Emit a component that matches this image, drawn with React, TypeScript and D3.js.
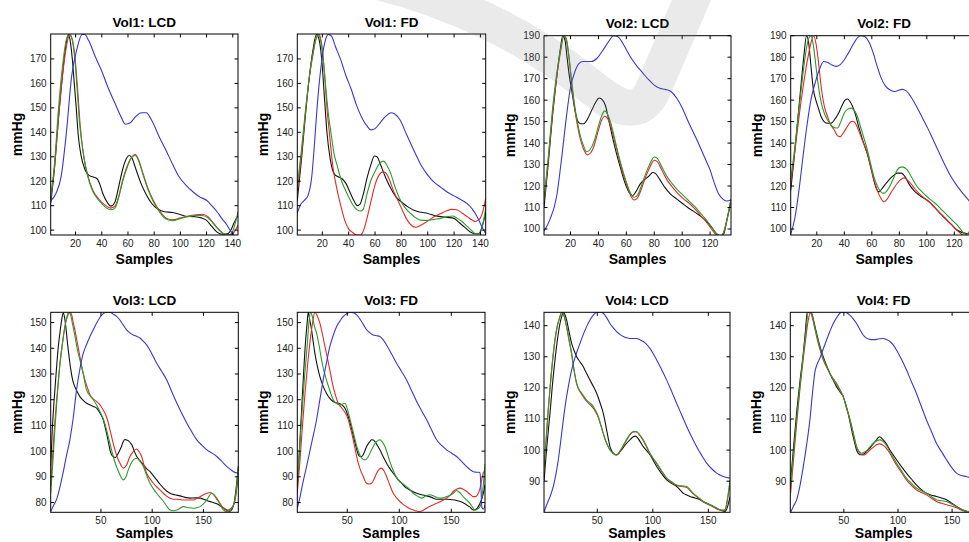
import React from "react";
import * as d3 from "d3";

type Pt = [number, number];

// ---------------- text ----------------
const panelTitles = ["Vol1: LCD", "Vol1: FD", "Vol2: LCD", "Vol2: FD", "Vol3: LCD", "Vol3: FD", "Vol4: LCD", "Vol4: FD"];
const xAxisLabel = "Samples";
const yAxisLabel = "mmHg";

// ---------------- ticks ----------------
const xTicksVol12 = [20, 40, 60, 80, 100, 120, 140];
const xTicksVol34 = [50, 100, 150];
const yTicksVol1 = [100, 110, 120, 130, 140, 150, 160, 170];
const yTicksVol2 = [100, 110, 120, 130, 140, 150, 160, 170, 180, 190];
const yTicksVol3 = [80, 90, 100, 110, 120, 130, 140, 150];
const yTicksVol4 = [90, 100, 110, 120, 130, 140];

const panelXTicks = [xTicksVol12, xTicksVol12, xTicksVol12, xTicksVol12, xTicksVol34, xTicksVol34, xTicksVol34, xTicksVol34];
const panelYTicks = [yTicksVol1, yTicksVol1, yTicksVol2, yTicksVol2, yTicksVol3, yTicksVol3, yTicksVol4, yTicksVol4];

const panelXDomains: [number, number][] = [[1, 144], [1, 144], [1, 135], [1, 137], [1, 184], [2, 182.4], [2, 169.5], [0.5, 173]];
const panelYDomains: [number, number][] = [[98, 180.2], [98, 180.2], [97.2, 190], [97.2, 190], [76.2, 154], [76.2, 154], [80, 144.3], [80, 144.3]];

// ---------------- series (sample, mmHg) ----------------
// Vol1 LCD
const vol1LcdBlue: Pt[] = [[1,112],[5,115],[9,122],[13,140],[17,163],[21,174],[25,180],[27,180],[30,177.5],[35,171],[40,165],[45,158],[50,152],[55,146],[58,143.3],[62,144],[66,146.5],[70,148],[74,148],[78,145],[84,138],[89,132.7],[94,127],[99,121.8],[104,118.5],[110,115.5],[115,113.5],[120,112.2],[124,110],[128,107.5],[132,104.5],[135,102.5],[138,100],[141,97.8],[144,96.5]];
const vol1LcdBlack: Pt[] = [[1,111],[4,126],[6.5,143],[9,158],[11.5,171],[13.5,178.5],[14.5,180],[16,177],[17.5,170],[19,160],[20.5,150],[22,139],[24,131],[27,125],[30,122.5],[33,121.8],[36,121.2],[38,119.5],[40.8,115],[44,111.5],[47,109.8],[50,111.5],[53,118],[56,125],[59,129.5],[61,130.5],[63,129.5],[66,125],[70,119],[74,114.5],[78,111],[83,108.5],[88,107.5],[94,107.2],[99,106.5],[104,105.7],[110,105.5],[116,105],[120,104],[124,101.5],[128,99.2],[132,98.3],[136,98.5],[139,100.5],[141,103],[144,106]];
const vol1LcdRed: Pt[] = [[1,113],[4,126],[7,146],[10,163],[13,175],[15.5,180],[17.5,178],[19.5,171],[21.5,158],[23.5,143],[26,131],[29,123],[33,116.5],[38,112.5],[43,110],[47,109],[50,109.8],[53,114],[56,120.5],[60,127],[63,130],[65.5,131],[68,129],[71,124],[75,117.5],[79,112.5],[84,108],[89,105],[94,104.2],[100,105],[106,105.8],[112,106.3],[117,106.5],[121,105.5],[125,103],[129,100.5],[133,98.5],[137,98],[140,98.5],[142,100],[144,102]];
const vol1LcdGreen: Pt[] = [[1,113],[4,128],[7,150],[10,167],[13,178],[15,180],[17,178.5],[19,172],[21,159],[23,144],[26,131],[29,122.5],[33,116],[38,112],[43,109.3],[47,108.3],[50,109],[53,113.5],[56,120],[60,126.5],[63,129.8],[65.5,130.5],[68,128.5],[71,123.5],[75,117],[79,112],[84,107.5],[89,104.5],[94,103.8],[100,104.7],[106,105.5],[112,106],[117,106],[121,105],[125,102.8],[129,100.3],[133,98.5],[137,98],[140,99.5],[142,103],[144,107.5]];

// Vol1 FD
const vol1FdBlue: Pt[] = [[1,107],[3,110],[6,112],[9,114],[12,122],[14,135],[16,150],[18,162],[20,171],[22,177],[24.5,180],[27,179.3],[30,175],[34,169.6],[38,163],[42,157.5],[46,151],[50,146],[54,142.5],[57,141],[60,141.5],[64,144],[68,146.5],[72,148],[75,147.5],[79,145],[84,139],[90,132],[95,126.5],[100,122.5],[105,119.5],[110,117.5],[115,115.5],[120,114],[125,112.5],[130,110.8],[134,108.5],[138,105],[141,101.5],[144,98.5]];
const vol1FdBlack: Pt[] = [[1,112],[4,128],[7,146],[10,162],[13,174],[15.5,180],[17.5,178],[19.5,170],[21.5,155],[23.5,140],[26,129],[29,123],[32,121.8],[35,121],[38,119],[41,115.5],[44,112],[46.5,110],[48.5,110.5],[51,114.5],[54,121.5],[57,127],[59.5,130.3],[61.5,130],[64,127],[68,121.5],[72,117],[76,113.5],[80,111.5],[85,109.5],[90,108],[95,107.3],[100,106.8],[105,106],[110,105.5],[115,105.2],[120,104.8],[124,103],[128,101.2],[132,99.3],[136,98.5],[139,98.6],[141,101],[144,107]];
const vol1FdRed: Pt[] = [[1,116],[4,130],[7,147],[10,162],[13,173],[15.5,178.5],[17.5,180],[19.5,176],[21.5,165],[23.5,150],[25.5,139],[28,126],[31,117],[34,110],[37,104],[40,100.5],[43,99],[46,98],[49,98],[51,99.5],[54,105],[57,112],[60,118.5],[63,122.5],[66,123.8],[68,123.5],[71,120.5],[74,116],[77,112.5],[80,109],[84,104.5],[88,101.8],[91,101.2],[94,101.8],[98,103],[102,104.5],[106,105.8],[110,106.8],[114,107.8],[118,108.5],[122,108.3],[126,107],[130,105.5],[134,104],[136,103.5],[138,104],[140,105],[142,108],[144,113]];
const vol1FdGreen: Pt[] = [[1,118],[4,132],[7,148],[10,162],[13,172],[15,178],[16.7,180],[18.5,178],[20.5,171],[22.5,159],[24.5,148],[26.5,140],[29,131],[31.5,126],[34,121],[37,117],[40,113.5],[43,110.5],[46,108.5],[49,107.8],[51,108.5],[54,115],[57,120.5],[60,124],[63,127],[66.5,128.2],[69,126.5],[72,123],[75,118],[79,112.5],[83,109],[87,106.8],[91,105],[95,104],[100,104],[105,104.4],[110,104.8],[115,105.5],[119,105.8],[122,105],[126,103.5],[130,101.5],[133,100],[136,98.6],[139,98.5],[141,100.5],[144,109]];

// Vol2 LCD
const vol2LcdBlue: Pt[] = [[1,99],[5,104],[10,115],[14,135],[17,152],[20,166],[23,173],[26,177],[29,178],[32,178],[35,178],[39,179.5],[43,183],[47,187],[51,190],[54,189.5],[57,187],[60,183.5],[64,179],[68,175.5],[72,172.5],[76,169.5],[80,167],[84,165.5],[88,165],[92,164],[96,161],[100,156.5],[104,150.5],[108,145],[112,139.5],[116,133.5],[120,127.5],[123,121.5],[126,116.5],[129,114],[132,113],[135,113.5]];
const vol2LcdBlack: Pt[] = [[1,110],[4,130],[7,152],[10,170],[12.5,183],[14.5,190],[16,188],[17.5,180],[19,172],[21,164],[23,156],[25,150.5],[27,149],[29.5,149],[32,151],[35,155],[38,159],[40.5,161],[43,160],[45,157.5],[47,152],[50,143],[53,135],[56,128],[59,121.5],[62,117],[64.5,115.5],[67,117.5],[70,121],[73,123],[76,124.5],[79,126.3],[81,125.8],[84,123],[88,119],[92,116],[96,114],[100,112],[104,110],[108,108.3],[112,106.5],[116,104.5],[119,102.5],[122,100],[125,97.5],[128,96.8],[130,98],[132,104],[134,110],[135,113]];
const vol2LcdRed: Pt[] = [[1,113],[4,132],[7,153],[10,170],[13,183],[15.3,190],[17,188],[19,179],[21,167],[23,156],[25,148],[27,142],[29.5,137],[32,134.5],[34.5,135.5],[37,139],[40,146],[42.5,151],[44.5,152.5],[46.5,151.5],[49,147.5],[52,140],[55,132],[58,125],[61,119],[63.5,115],[65.5,113.5],[68,114.5],[71,119],[74,124.5],[77,129],[80,132],[82,131.5],[85,128],[89,123],[93,119.5],[97,116.5],[101,114],[105,112],[109,109.5],[113,106.5],[117,103.5],[121,100],[124,97.5],[127,96.5],[129,97.5],[131,101.5],[133,107],[135,113.5]];
const vol2LcdGreen: Pt[] = [[1,113],[4,133],[7,155],[10,172],[13,184],[15,190],[16.8,189],[18.8,181],[20.8,169],[23,157.5],[25,149.5],[27,143.5],[29.5,138.5],[31.5,136],[34,137],[37,141],[40,148],[42.5,153],[44.5,155],[46.5,153.5],[49,149],[52,141],[55,133],[58,126],[61,120],[63.5,116],[65.5,114.8],[68,115.8],[71,120.5],[74,126],[77,130.5],[80,133.5],[82,133],[85,129.5],[89,124.5],[93,121],[97,118],[101,115.5],[105,113],[109,110.5],[113,107.5],[117,104.5],[121,101],[124,98.3],[127,97],[129,97.5],[131,101],[133,107],[135,114]];

// Vol2 FD
const vol2FdBlue: Pt[] = [[1,97.5],[4,105],[7,118],[10,134],[13,149],[16,161],[19,168.5],[22,174.5],[25,178],[28,177.5],[31,176.3],[34,175.7],[37,176.5],[40,178.8],[43,182],[47,186.6],[50,189.3],[52,190],[55,189.5],[58,187],[61,182],[64,175.5],[67,170],[70,166.5],[73,164.8],[76,164],[79,164.5],[82,165],[85,164.3],[89,161],[93,156.5],[97,151.5],[101,146.5],[105,141],[109,135.5],[113,130],[117,125],[121,121],[125,117.5],[129,114.5],[132,112],[136,108]];
const vol2FdBlack: Pt[] = [[1,118],[3.5,133],[6,150],[8.5,167],[10.5,180],[12.5,190],[14,187],[15.7,176],[17.5,165],[19.3,160],[21,156.5],[23,152.5],[25.3,150],[28,149.2],[30.5,149.3],[33,151],[35.5,153.5],[38,157],[40.5,160],[42.2,160.5],[44,159.5],[46,157],[48,153.5],[50.5,147.5],[53.5,141],[56.7,135],[59.5,128],[61.5,122.5],[63.5,118.5],[65.2,117.3],[67,118.5],[69.5,120.5],[72,122.5],[75,124.5],[78.5,126],[81.5,126],[84,124.5],[87,121],[90.5,118],[94,116],[98,114.3],[102,112.5],[106,109.8],[110,107],[114,104.5],[118,102],[122,99.5],[126,98.3],[130,97.8],[133,99],[136,102]];
const vol2FdRed: Pt[] = [[1,121],[4,136],[7,152],[10,166],[13,178],[15.5,186],[17.5,190],[19.5,186],[21.5,176],[23.5,164.5],[25.5,157],[27.8,152.4],[30,148.5],[32.6,146.2],[35,143.5],[37,143],[39.5,145],[42.2,147.7],[44.5,149.8],[46,150.2],[48,149.3],[50,146.5],[53,141.5],[56.7,135.3],[59.5,128],[61.5,123],[64,118],[66.4,114.5],[68.8,112.7],[71,113.8],[73.6,116.6],[76,119],[78.5,121.3],[81,123],[83.3,123.8],[85.5,123],[88.2,121.3],[91.5,118.5],[95.4,115.9],[99,114],[102.6,112],[106,109.8],[109.9,107.3],[113.5,105],[117,102.6],[120.5,100.3],[124.4,98],[127,97],[130,97],[133,98.5],[136,101]];
const vol2FdGreen: Pt[] = [[1,123],[4,138],[7,156],[9.5,170],[11.5,180],[13.7,188],[15.7,190],[17.5,185.5],[19.5,175],[21.5,165],[23.5,158],[25.4,154],[28,150.5],[30.2,148.5],[32.5,147.3],[35,147],[37.5,150],[40,154],[42.5,155.8],[45,156.3],[47.5,155],[49.5,152.4],[52.5,146],[56.7,136.9],[59.5,129.5],[61.5,124.4],[64,120],[66.4,117.4],[68.8,116.6],[71.2,118],[73.6,120.5],[76,124],[78.5,127.5],[81,128.8],[83,128.8],[85.7,127.5],[89,124],[92.9,119.8],[96.5,117.3],[100.2,115],[104,113],[107.4,111.2],[111,108.8],[114.7,106.5],[118.5,104],[122,101.9],[125,99.5],[127,98],[129,97.5],[131,99],[134,103],[136,106]];

// Vol3 LCD
const vol3LcdBlue: Pt[] = [[1,76.5],[4,79],[7,81.5],[10,86],[13,91.4],[16,97.5],[19.7,104.4],[23,113],[26.2,123.8],[29.5,132],[32.7,138],[36,141.5],[39.3,144.6],[42.5,147.2],[45.8,149.8],[49,152],[52.3,153.5],[55.5,154],[58.8,154],[62,153.3],[65.3,152.4],[68.5,151],[71.8,149],[75,147.2],[78.3,146],[81.6,145.2],[85,144.6],[88,144],[91.3,142.8],[94.6,141.3],[99.5,138],[104.4,134.2],[109.3,131],[114.2,127.7],[119,123.2],[124,118.7],[128.8,114.7],[133.7,110.9],[138.6,107.5],[143.5,104.4],[148.4,102.3],[153.3,100.5],[158,99.3],[163,97.9],[168,96],[172.8,94],[176,93],[179.3,92],[184,91.4]];
const vol3LcdBlack: Pt[] = [[1,94],[2.5,108],[4,118],[5.5,126],[7,134],[8.5,141],[10,146],[11.5,150.5],[13.2,153.8],[14.5,152],[16,147.5],[17.5,141.5],[19,136.5],[20.5,132],[22.5,127.5],[24.6,125],[27,123],[29.5,121.2],[32.5,119.8],[36,118.6],[39,118],[42.5,117.4],[45.8,116.7],[49,114.8],[52.3,112.2],[54,109.5],[55.5,107],[57.5,103],[58.8,100.5],[60.5,98.5],[62,97.9],[64,97.5],[66,98.5],[68.6,100.5],[70.2,102],[71.8,103.7],[73.5,104.5],[75,104.3],[77,104],[79,103],[80.5,102.2],[82.5,100],[84.8,98],[88,96.3],[91.4,94.7],[94.5,93.2],[97.9,92],[101,90.5],[104.4,88.8],[107.5,87.2],[111,85.6],[114,84.5],[117.4,83.6],[122,83],[127.2,82.6],[132,82],[137,81.7],[142,81.8],[146.7,81.7],[150,81.3],[153.3,80.8],[158,80.2],[163,79.5],[168,78.3],[172.8,77.1],[175.5,76.5],[178,77.5],[180,80],[182,86],[184,94]];
const vol3LcdRed: Pt[] = [[1,86.6],[3,99],[5,110.9],[7.5,123],[10,134.2],[12.5,142],[14.8,148.5],[17,152],[19.7,154],[21.5,153],[23,150],[24.6,147.2],[27,142],[29.5,136.8],[32,131.5],[34.4,127.7],[37,124.5],[39.3,121.9],[42.5,120.3],[45.8,119.3],[49,118],[51.5,116.5],[53.9,114.8],[56.5,112],[58.8,108.3],[61.2,104.3],[63.7,100.5],[66.2,97.3],[68.6,95.3],[70.2,94],[71.8,93.4],[73.5,93.8],[75,94.6],[78.3,97.9],[81.5,99.8],[84.8,100.8],[87.2,99.8],[89.7,97.9],[92,94.5],[94.6,91.4],[97.8,89.3],[101.1,87.5],[106,85.5],[110.9,83.6],[114,82.5],[117.4,81.7],[120.7,81.3],[124,81.3],[127.2,81.2],[130.5,81],[135.4,81],[140.2,81],[143.5,81.6],[146.7,82.3],[150,83],[153.3,83.6],[156.5,83.9],[159.8,83.2],[163,81.7],[166.3,79.6],[169.5,77.8],[172.8,77],[176,77.5],[179.3,79],[181.5,83],[183.5,88.8]];
const vol3LcdGreen: Pt[] = [[1,83.6],[3,95],[5,108],[7.5,122],[10,133.5],[12.5,142],[15,148.5],[17,152.5],[18.5,154],[20,153.5],[22,150],[24.5,145],[27,139.5],[29.5,135.5],[32.5,130.5],[36,123.8],[39.3,121.6],[42.5,120],[45.8,117.9],[49,115.4],[52.3,112.5],[55.5,108.3],[58.8,103],[62,97.9],[65.3,93.8],[68.6,90.8],[70.2,89.5],[71.8,88.8],[74.2,89.8],[76.7,92.7],[79.1,95],[81.6,96.6],[84.8,97.2],[88.1,96],[91.4,94],[94.6,90.5],[97.9,87.5],[101.2,85.3],[104.4,83.6],[107.7,82],[111,80.4],[114.2,78.6],[117.4,77.1],[120.7,76.8],[124,77.1],[127.3,77.8],[130.5,78.4],[135.4,78],[140.2,77.8],[143.5,78],[146.7,78.4],[150,79.5],[153.3,81],[156,82.8],[158,83.6],[160.3,83],[162.5,81.5],[164.6,80.4],[167,78.6],[169.5,77.1],[172.8,76.5],[176,77],[179,78.8],[181,81],[182.5,86],[184,94]];

// Vol3 FD
const vol3FdBlue: Pt[] = [[2,77.8],[4,81],[7,87],[10.9,94],[15.7,103],[20.5,112.2],[23.7,120],[26.9,127.7],[30.1,134.5],[33.3,140.7],[36.5,145],[39.7,148.4],[43,150.6],[46.2,152.4],[49.4,153.4],[52.6,154],[55.8,153.8],[59,153],[62.2,151.4],[65.4,149.3],[68.6,147.2],[71.8,146],[75,145.2],[78.2,144.9],[81.4,144.6],[84.6,143.3],[87.8,141.3],[92.6,137.8],[97.4,134.2],[102.2,131],[107,127.7],[111.9,123.5],[116.7,119.3],[121.5,115.7],[126.3,112.2],[131.1,108.2],[135.9,104.4],[140.7,102.2],[145.5,100.5],[150.3,99.2],[155.1,97.9],[159.9,96],[164.7,94],[168,92.8],[171.2,92],[174.4,91.8],[177.6,91.7],[178.6,85],[179.4,78],[181,77.5],[182.4,79]];
const vol3FdBlack: Pt[] = [[2,86.2],[4,100],[6,115],[8,130],[10,143],[11.5,150],[12.5,154],[14,151],[15.7,147.2],[17.3,142.5],[18.9,138],[21.3,133],[23.7,129],[26.8,125.3],[30,122.5],[33.2,120.5],[36.5,119.3],[39.7,118.7],[43,118.4],[45.4,117.8],[47.8,116.7],[50.3,114.2],[52.8,110.9],[55.2,107],[57.6,103],[59.2,100.5],[60.8,98.5],[62.4,97.9],[64,97.9],[66.3,99.5],[68.6,101.8],[71,103.3],[73.4,104.4],[75,104.3],[76.6,103.7],[79,102.2],[81.4,100.5],[84.6,97.8],[87.8,95.3],[91,93.2],[94.2,91.4],[97.4,89.7],[100.6,88.2],[103.8,86.8],[107,85.6],[111.8,84.5],[116.7,83.6],[121.5,83],[126.3,82.6],[131.1,82],[135.9,81.3],[140.7,81.3],[145.5,81.3],[150.3,81.1],[155.1,80.8],[159.9,80.2],[164.7,79.1],[168,78.2],[171,77.1],[173.5,77.3],[176,78.4],[178.4,80.5],[180.8,83.6],[182.4,87]];
const vol3FdRed: Pt[] = [[2,83.6],[4.5,96],[7,110],[9.5,123],[12,134],[14.5,143.5],[16.7,150],[18.9,154],[21.3,152.5],[23.7,149.8],[26.9,144],[30,138],[33.3,131.5],[36.5,125],[38.9,121.5],[41.3,118.6],[43.8,117.2],[46.2,116],[48.6,114.5],[51,112.2],[53.4,108.5],[55.8,104.4],[58.2,99.5],[60.6,95.3],[63,92.3],[65.4,90.1],[67,88.5],[68.6,87.5],[71,87.2],[73.4,87.5],[75.8,89.2],[78.2,91.4],[80.6,92.9],[83,93.4],[85.4,92.3],[87.8,90.1],[91,86.7],[94.2,83.6],[97.4,81.8],[100.6,80.4],[103.8,79.3],[107,78.4],[110.3,77.6],[113.5,77.1],[116.7,76.7],[119.9,76.5],[123.1,77],[126.3,77.8],[131.1,78.8],[135.9,79.7],[140.7,80.6],[145.5,81.7],[148.7,82.8],[151.9,84.3],[155.1,85.2],[158.3,85.6],[161.5,85.2],[164.7,84.3],[168,83.2],[171,82.3],[173.5,82.3],[176,83.6],[177.6,85.5],[179.2,88.8],[181,92]];
const vol3FdGreen: Pt[] = [[2,87.5],[4,100],[6.5,115],[9,129],[11.5,141],[13.2,150],[14.7,154],[16.3,152.5],[18.5,148.5],[20.5,146],[23,141],[25.3,135.5],[27.7,131],[30,127.7],[33.3,123.5],[36.5,120],[39.7,118.5],[43,118],[45.4,118.3],[47.8,118.6],[50.3,116],[52.8,112.2],[56,107],[59.2,101.8],[61.6,99],[64,97.2],[67.3,96.6],[70.4,98],[73.4,100.5],[76,102.5],[78.2,103.7],[81.4,104.4],[83.8,103.5],[86.2,101.8],[89.4,98],[92.6,94],[95.8,91],[99,88.8],[103,87.4],[107,86.2],[110.3,85],[113.5,83.6],[117.5,82.5],[121.5,81.7],[125.5,82.5],[129.5,83],[134.3,82.3],[139.1,81.7],[142.3,81.8],[145.5,82.3],[148.7,82.8],[151.9,83.6],[155.1,84.7],[158.3,83.8],[161.5,82.3],[164.7,81],[167.9,79.7],[170.3,78.3],[172.7,77.1],[175,77.4],[177.6,78.4],[179.5,82],[181,88],[182.4,95]];

// Vol4 LCD
const vol4LcdBlue: Pt[] = [[2,80],[4.5,82.5],[7.4,85],[10.4,88.3],[12.6,92],[14.9,96.9],[17.1,103],[19.4,109.7],[21.6,115.5],[23.9,120.4],[26.1,124.5],[28.4,127.9],[31.4,131.3],[34.4,134.3],[37.4,137.2],[40.4,139.7],[43.4,141.8],[46.4,143.4],[49.4,144.3],[52.4,144.4],[55.4,144],[58.4,142.6],[61.4,140.7],[64.4,139.3],[67.4,138.1],[70.4,137.2],[73.4,136.5],[76.4,136.1],[79.4,135.9],[82.4,135.9],[85.4,135.9],[88.4,135.5],[91.4,134.9],[94.4,134],[97.4,132.7],[100.4,131],[103.5,129],[108,125.8],[112.5,122.5],[117,118.8],[121.5,115],[126,111.3],[130.5,107.6],[135,104.2],[139.5,101.1],[144,98.3],[148.5,95.8],[153,94],[157.5,92.6],[160.5,92],[163.5,91.5],[166.5,91.2],[169.5,91]];
const vol4LcdBlack: Pt[] = [[2,90],[4.5,101],[7.4,111.8],[9.6,121],[11.9,129],[14.1,135.5],[16.4,140.7],[18,143],[19.4,144.3],[20.9,143.5],[22.4,141.8],[24.6,138],[26.9,134.3],[29.1,132],[31.4,130],[34.4,128.4],[37.4,126.8],[40.4,124.6],[43.4,122.5],[46.4,120.5],[49.4,118.3],[52.4,115.3],[55.4,111.8],[56.9,109.3],[58.4,106.5],[59.9,103.7],[61.4,101.1],[62.9,99.8],[64.4,99],[65.9,98.6],[67.4,98.5],[68.9,98.8],[70.4,99.5],[73.4,100.8],[76.4,102.2],[79.4,103.3],[82.4,104.3],[84,104.5],[85.4,104.3],[88.4,102.8],[91.4,101.1],[94.4,99.8],[97.4,98.5],[100.5,96.6],[103.5,94.7],[108,92.4],[112.5,90.4],[117,89.3],[121.5,88.3],[124.5,87.2],[127.5,86.1],[130.5,85.6],[133.5,85.1],[138,84.6],[142.5,84],[145.5,83.4],[148.5,82.9],[151.5,82.4],[154.5,81.9],[157.5,81.3],[160.5,80.8],[163,80.4],[165,80.3],[167,81.5],[169.5,85]];
const vol4LcdRed: Pt[] = [[2,94],[4,103.5],[6,113.5],[8,122],[10,129.5],[12,135.5],[14,139.8],[16,142.5],[18,144.3],[19.6,143.7],[21,141.8],[22.4,139.5],[24.6,135.2],[26.9,130.8],[29.1,125.5],[31.4,121.3],[33.6,119.2],[35.9,118],[38.1,116.8],[40.4,115.7],[43.4,114.6],[46.4,113.5],[48.6,112.2],[50.9,110.5],[53.1,108],[55.4,105.3],[57.6,102.8],[59.9,101],[62.1,99.7],[64.4,98.9],[65.9,98.5],[67.4,98.4],[69.6,99.1],[71.9,100.4],[74.9,102.3],[77.9,104.1],[80.1,105.2],[82.4,105.8],[85.4,105.8],[88.4,104.6],[91.4,103],[94.4,100.9],[97.4,98.8],[100.5,97.1],[103.5,95.6],[108,93.1],[112.5,90.8],[117,89.6],[121.5,88.6],[126,88.3],[130.5,88],[133.5,87],[136.5,85.9],[141,84.6],[145.5,83.3],[150,82.5],[154.5,81.7],[157.5,81.1],[160.5,80.7],[163,80.6],[165,80.7],[167,83.5],[169.5,89.5]];
const vol4LcdGreen: Pt[] = [[2,94.7],[4,104],[6,114],[8,122.5],[10,130],[12,136],[14,140],[16,142.5],[17.9,144.3],[19.5,143.8],[21,142],[22.4,139.7],[24.6,135.5],[26.9,131.1],[29.1,125.8],[31.4,121.5],[33.6,119.5],[35.9,118.3],[38.1,117.2],[40.4,116.1],[43.4,115.1],[46.4,114],[48.6,112.6],[50.9,110.8],[53.1,108.2],[55.4,105.4],[57.6,103],[59.9,101.1],[62.1,99.8],[64.4,99],[65.9,98.6],[67.4,98.5],[69.6,99.3],[71.9,100.6],[74.9,102.5],[77.9,104.3],[80.1,105.4],[82.4,106],[85.4,106],[88.4,104.8],[91.4,103.3],[94.4,101.2],[97.4,99],[100.5,97.3],[103.5,95.8],[108,93.3],[112.5,91],[117,89.8],[121.5,88.8],[126,88.5],[130.5,88.3],[133.5,87.3],[136.5,86.1],[141,84.8],[145.5,83.5],[150,82.7],[154.5,81.9],[157.5,81.3],[160.5,80.8],[163,80.7],[165,80.8],[167,84],[169.5,90.4]];

// Vol4 FD
const vol4FdBlue: Pt[] = [[0.8,80],[3.5,82],[6.3,84],[9.4,88.5],[12.5,94.7],[15.5,101.5],[18.6,109.7],[20.9,118],[23.2,125],[25.5,127.8],[27.8,129.5],[30.9,132.5],[34,135.4],[37.1,138.2],[40.2,140.7],[43.2,142.5],[46.3,144],[48.6,144.3],[50.9,144.3],[53.2,144],[55.5,143.4],[58.6,142.2],[61.7,140.7],[64.8,138.8],[67.8,137],[70.9,136],[74,135.6],[77.1,135.5],[80.2,135.6],[83.2,135.8],[86.3,135.9],[89.4,135.5],[92.5,134.9],[95.6,133.8],[98.6,132.2],[103.2,129.2],[107.8,125.8],[112.4,122],[117,118.3],[121.6,114],[126.3,109.7],[130.9,106],[135.5,102.2],[140.2,99.5],[144.8,96.9],[149.4,94.5],[154,92.6],[158.6,91.8],[163.2,91.5],[168,90.8],[173,89.5]];
const vol4FdBlack: Pt[] = [[0.8,90],[3.5,101],[6.3,111.8],[9.4,122],[12.5,131.1],[14.4,138],[16.2,144.3],[18.2,144.5],[20.2,144],[22.5,141],[24.8,137.5],[27.8,133.5],[30.9,130],[34,127.2],[37,124.7],[40.1,122.5],[43.2,120.4],[46.3,118.8],[49.4,117.2],[51.7,114.8],[54,111.8],[56.3,108],[58.6,104.3],[60.2,102],[61.7,100],[63.2,99],[64.8,98.5],[67.1,98.6],[69.4,99],[71.7,99.8],[74,100.6],[77.1,102],[80.2,103.3],[81.7,104],[83.2,104.3],[85.5,103.6],[87.8,102.7],[90.2,101.5],[92.5,100],[95.5,98.5],[98.6,96.9],[103.2,94.7],[107.8,92.6],[112.4,90.7],[117,88.8],[121.6,87.3],[126.3,86.1],[130.9,85.5],[135.5,85.1],[140.2,84.6],[144.8,84],[149.4,83],[154,81.9],[158.6,81],[163.2,80.3],[168,80],[173,80]];
const vol4FdRed: Pt[] = [[0.8,86.1],[3.5,97],[6.5,109],[9.5,120],[12.5,129.5],[15,136.5],[17.2,142],[19.2,144.3],[21,143],[22.9,139.8],[24.8,136.5],[27.8,132.5],[30.9,129],[34,126.7],[37,124.7],[40.1,123],[43.2,121.5],[46.3,119.5],[49.4,117.2],[52.4,113.5],[55.5,109.7],[58.6,105.5],[61.7,101.1],[64,99.3],[66.3,98.5],[67.8,98.4],[69.4,98.5],[71.7,99.2],[74,100],[77.1,100.9],[80.2,101.7],[83.2,102],[85.5,101.7],[87.8,101.1],[90.2,100.1],[92.5,99],[95.5,97.1],[98.6,95.2],[103.2,92.8],[107.8,90.4],[112.4,88.7],[117,87.2],[121.6,86.4],[126.3,85.6],[130.9,84.5],[135.5,83.5],[140.2,82.9],[144.8,82.4],[149.4,82],[154,81.5],[160,80.5],[166,80],[173,80]];
const vol4FdGreen: Pt[] = [[0.8,88.3],[3.5,99],[6.5,110.5],[9.5,121],[12.5,130.5],[14.9,138],[17.1,144.3],[19,144.2],[20.9,142.5],[22.9,139.5],[24.8,137],[27.8,133],[30.9,129.5],[34,127],[37,124.7],[40.1,122.7],[43.2,121],[46.3,119.2],[49.4,117.2],[52.4,113.7],[55.5,110.2],[58.6,105.6],[61.7,101.1],[64,99.7],[66.3,99],[68.7,99.3],[71,99.8],[74,101],[77.1,102.2],[80.2,102.9],[83.2,103.3],[85.5,103],[87.8,102.2],[90.2,101],[92.5,99.5],[95.5,97.7],[98.6,95.8],[103.2,93.4],[107.8,91],[112.4,89.3],[117,87.8],[121.6,86.9],[126.3,86.1],[130.9,85],[135.5,84],[140.2,83.7],[144.8,83.5],[149.4,82.7],[154,81.9],[158.6,81],[163.2,80.3],[168,80.2],[173,80.5]];

const seriesBlue = [vol1LcdBlue, vol1FdBlue, vol2LcdBlue, vol2FdBlue, vol3LcdBlue, vol3FdBlue, vol4LcdBlue, vol4FdBlue];
const seriesBlack = [vol1LcdBlack, vol1FdBlack, vol2LcdBlack, vol2FdBlack, vol3LcdBlack, vol3FdBlack, vol4LcdBlack, vol4FdBlack];
const seriesRed = [vol1LcdRed, vol1FdRed, vol2LcdRed, vol2FdRed, vol3LcdRed, vol3FdRed, vol4LcdRed, vol4FdRed];
const seriesGreen = [vol1LcdGreen, vol1FdGreen, vol2LcdGreen, vol2FdGreen, vol3LcdGreen, vol3FdGreen, vol4LcdGreen, vol4FdGreen];

// ---------------- layout & style ----------------
const W = 969;
const H = 542;
const panelBoxes = [
  { left: 50.7, top: 34, right: 238, bottom: 235 },
  { left: 297.3, top: 34, right: 485.7, bottom: 235 },
  { left: 544, top: 35.7, right: 731, bottom: 235 },
  { left: 790.7, top: 35.7, right: 977.7, bottom: 235 },
  { left: 50.7, top: 312.3, right: 238.3, bottom: 512.3 },
  { left: 297.3, top: 312.3, right: 485, bottom: 512.3 },
  { left: 544, top: 312.3, right: 730, bottom: 512.3 },
  { left: 790.3, top: 312.3, right: 977, bottom: 512.3 },
];
const FONT = "'Liberation Sans', Arial, Helvetica, sans-serif";
const colBlue = "#3838cc";
const colBlack = "#111111";
const colRed = "#e02a2a";
const colGreen = "#2e9a2e";
const TICK = 3.5;

function Panel({ i }: { i: number }) {
  const b = panelBoxes[i];
  const x = d3.scaleLinear().domain(panelXDomains[i]).range([b.left, b.right]);
  const y = d3.scaleLinear().domain(panelYDomains[i]).range([b.bottom, b.top]);
  const line = d3
    .line<Pt>()
    .x((d) => x(d[0]))
    .y((d) => y(d[1]))
    .curve(d3.curveMonotoneX);
  const [x0, x1] = panelXDomains[i];
  const [y0, y1] = panelYDomains[i];
  const xt = panelXTicks[i].filter((t) => t >= x0 && t <= x1);
  const yt = panelYTicks[i].filter((t) => t >= y0 && t <= y1);
  const cx = (b.left + b.right) / 2;
  const cy = (b.top + b.bottom) / 2;
  const clipId = `clip-${i}`;
  const xLabelY = Math.min(b.bottom + 28.5, H - 3.6);
  return (
    <g>
      <defs>
        <clipPath id={clipId}>
          <rect x={b.left} y={b.top} width={b.right - b.left} height={b.bottom - b.top} />
        </clipPath>
      </defs>
      <g clipPath={`url(#${clipId})`} fill="none" strokeWidth={1.1} strokeLinejoin="round">
        <path d={line(seriesBlack[i]) || ""} stroke={colBlack} />
        <path d={line(seriesRed[i]) || ""} stroke={colRed} />
        <path d={line(seriesGreen[i]) || ""} stroke={colGreen} />
        <path d={line(seriesBlue[i]) || ""} stroke={colBlue} />
      </g>
      <rect x={b.left} y={b.top} width={b.right - b.left} height={b.bottom - b.top} fill="none" stroke="#000" strokeWidth={1} />
      <g stroke="#000" strokeWidth={1}>
        {xt.map((t) => (
          <g key={`xt${t}`}>
            <line x1={x(t)} x2={x(t)} y1={b.bottom} y2={b.bottom - TICK} />
            <line x1={x(t)} x2={x(t)} y1={b.top} y2={b.top + TICK} />
          </g>
        ))}
        {yt.map((t) => (
          <g key={`yt${t}`}>
            <line x1={b.left} x2={b.left + TICK} y1={y(t)} y2={y(t)} />
            <line x1={b.right} x2={b.right - TICK} y1={y(t)} y2={y(t)} />
          </g>
        ))}
      </g>
      <g fontFamily={FONT} fontSize={10} fill="#222">
        {xt.map((t) => (
          <text key={`xl${t}`} x={x(t)} y={b.bottom + 11.5} textAnchor="middle">
            {t}
          </text>
        ))}
        {yt.map((t) => (
          <text key={`yl${t}`} x={b.left - 4} y={y(t)} dy="0.35em" textAnchor="end">
            {t}
          </text>
        ))}
      </g>
      <text x={cx} y={b.top - 7.5} textAnchor="middle" fontFamily={FONT} fontWeight="bold" fontSize={13.5} fill="#000">
        {panelTitles[i]}
      </text>
      <text x={cx} y={xLabelY} textAnchor="middle" fontFamily={FONT} fontWeight="bold" fontSize={14} fill="#000">
        {xAxisLabel}
      </text>
      <text
        transform={`translate(${b.left - 29},${cy}) rotate(-90)`}
        textAnchor="middle"
        fontFamily={FONT}
        fontWeight="bold"
        fontSize={14}
        fill="#000"
      >
        {yAxisLabel}
      </text>
    </g>
  );
}

export default function App() {
  return (
    <svg
      width={W}
      height={H}
      viewBox={`0 0 ${W} ${H}`}
      style={{ position: "absolute", left: 0, top: 0, display: "block", background: "#fff" }}
    >
      <rect x={0} y={0} width={W} height={H} fill="#fff" />
      {panelTitles.map((_, i) => (
        <Panel key={i} i={i} />
      ))}
      <path
        d="M 370 -20 C 455 0, 530 38, 585 82 C 612 104, 636 122, 652 92 L 700 -20"
        fill="none"
        stroke="rgb(128,128,128)"
        strokeOpacity={0.17}
        strokeWidth={36}
      />
    </svg>
  );
}
